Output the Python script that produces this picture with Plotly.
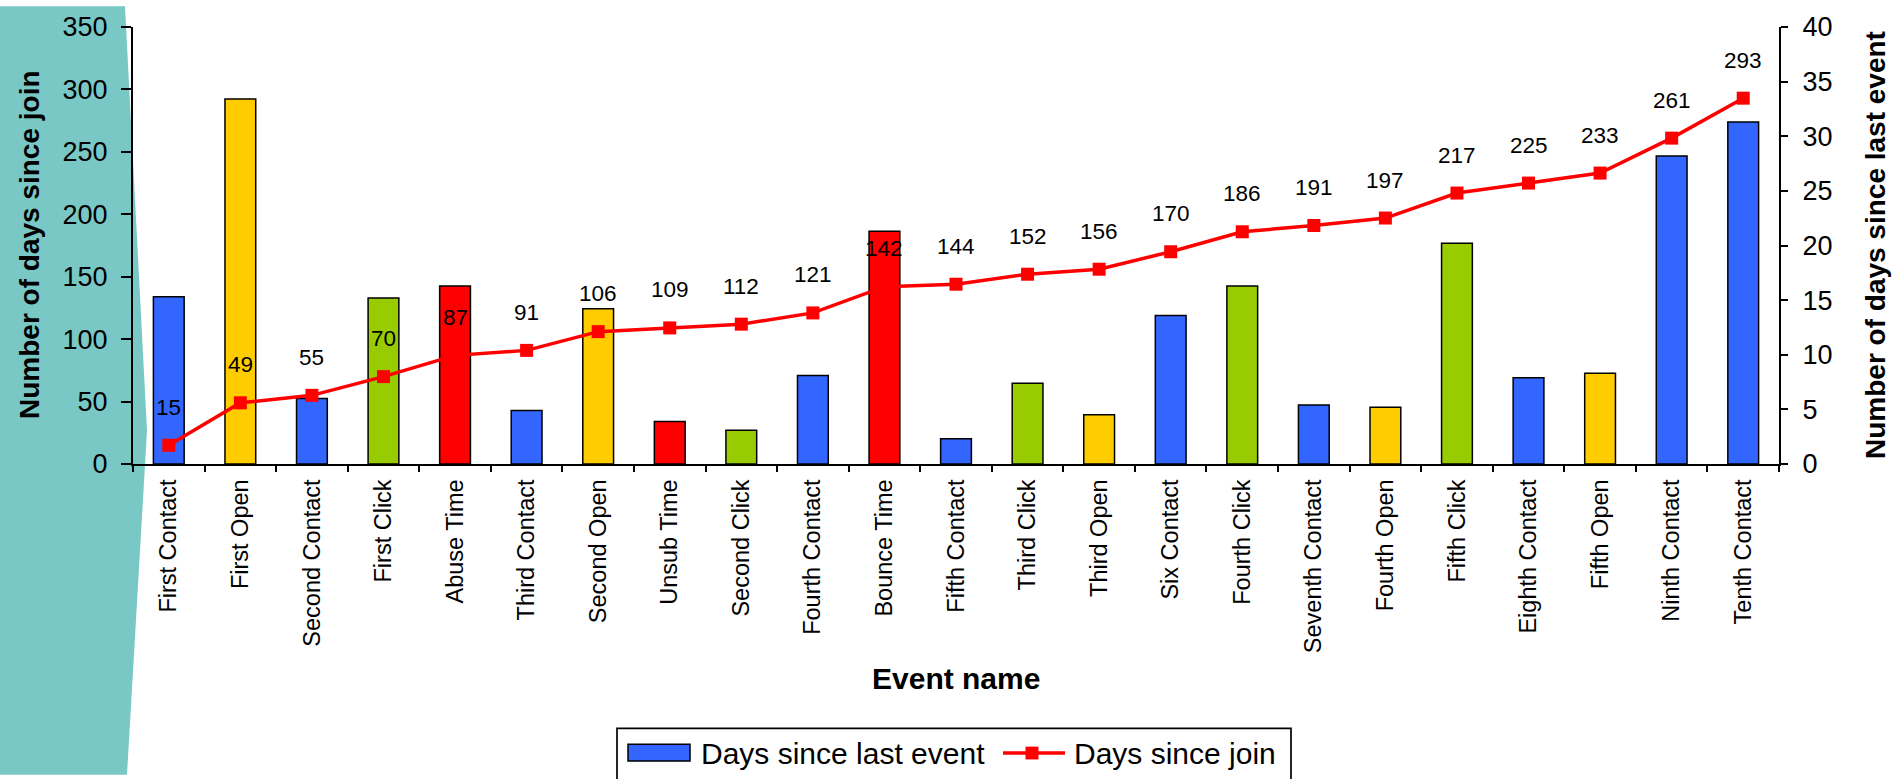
import plotly.graph_objects as go

# ---- data -------------------------------------------------------------
events = [
    "First Contact", "First Open", "Second Contact", "First Click", "Abuse Time",
    "Third Contact", "Second Open", "Unsub Time", "Second Click", "Fourth Contact",
    "Bounce Time", "Fifth Contact", "Third Click", "Third Open", "Six Contact",
    "Fourth Click", "Seventh Contact", "Fourth Open", "Fifth Click", "Eighth Contact",
    "Fifth Open", "Ninth Contact", "Tenth Contact",
]
days_since_join = [15, 49, 55, 70, 87, 91, 106, 109, 112, 121, 142, 144, 152,
                   156, 170, 186, 191, 197, 217, 225, 233, 261, 293]
days_since_last = [15.3, 33.4, 6.0, 15.2, 16.3, 4.9, 14.2, 3.9, 3.1, 8.1, 21.3,
                   2.3, 7.4, 4.5, 13.6, 16.3, 5.4, 5.2, 20.2, 7.9, 8.3, 28.2, 31.3]

join_ticks = [0, 50, 100, 150, 200, 250, 300, 350]
last_ticks = [0, 5, 10, 15, 20, 25, 30, 35, 40]

# ---- styling ------------------------------------------------------------
FONT = "Liberation Sans, Arial, sans-serif"
TYPE_COLORS = {"Contact": "#3366FF", "Open": "#FFCC00", "Click": "#99CC00", "Time": "#FF0000"}
bar_colors = [TYPE_COLORS[e.split()[-1]] for e in events]

FIG_W, FIG_H = 1895, 779
M_L, M_R, M_T, M_B = 133, 116, 21, 315
PLOT_W = FIG_W - M_L - M_R
PLOT_H = FIG_H - M_T - M_B


def px(x):
    """pixel column -> paper x"""
    return (x - M_L) / PLOT_W


def py(y):
    """pixel row -> paper y"""
    return (FIG_H - M_B - y) / PLOT_H


fig = go.Figure()

# bars: days since previous event (right-hand scale)
fig.add_trace(go.Bar(
    x=events, y=days_since_last, name="Days since last event",
    marker=dict(color=bar_colors, line=dict(color="black", width=1.5)),
    width=0.43, yaxis="y", showlegend=False,
))

# line: cumulative days since join (left-hand scale)
fig.add_trace(go.Scatter(
    x=events, y=days_since_join, name="Days since join", mode="lines+markers",
    line=dict(color="#FF0000", width=3.5),
    marker=dict(symbol="square", size=13, color="#FF0000"),
    yaxis="y2", showlegend=False,
))

annotations = []
for ev, v in zip(events, days_since_join):
    annotations.append(dict(
        x=ev, y=v, xref="x", yref="y2", text=str(v), showarrow=False,
        yshift=38, xanchor="center", yanchor="middle",
        font=dict(family=FONT, size=22.5, color="black"),
    ))

# axis titles
annotations += [
    dict(x=px(29), y=py(242), xref="paper", yref="paper", text="<b>Number of days since join</b>",
         textangle=-90, showarrow=False, xanchor="center", yanchor="middle",
         font=dict(family=FONT, size=28, color="black")),
    dict(x=px(1875), y=py(242), xref="paper", yref="paper",
         text="<b>Number of days since last event</b>",
         textangle=-90, showarrow=False, xanchor="center", yanchor="middle",
         font=dict(family=FONT, size=28, color="black")),
    dict(x=px(956), y=py(681), xref="paper", yref="paper", text="<b>Event name</b>",
         showarrow=False, xanchor="center", yanchor="middle",
         font=dict(family=FONT, size=30, color="black")),
]

# legend
annotations += [
    dict(x=px(699), y=py(757), xref="paper", yref="paper", text="Days since last event",
         showarrow=False, xanchor="left", yanchor="middle",
         font=dict(family=FONT, size=30, color="black")),
    dict(x=px(1072), y=py(757), xref="paper", yref="paper", text="Days since join",
         showarrow=False, xanchor="left", yanchor="middle",
         font=dict(family=FONT, size=30, color="black")),
]

shapes = [
    # teal slide accent on the left edge
    dict(type="path", xref="paper", yref="paper", layer="below",
         path=(f"M{px(0)},{py(0)} L{px(125)},{py(0)} L{px(147)},{py(430)} "
               f"L{px(127)},{py(779)} L{px(0)},{py(779)} Z"),
         fillcolor="#79C8C6", line=dict(width=0)),
    # legend frame
    dict(type="rect", xref="paper", yref="paper",
         x0=px(617), x1=px(1291), y0=py(732), y1=py(800),
         line=dict(color="black", width=1.7), fillcolor="rgba(0,0,0,0)"),
    # legend swatch for the bars
    dict(type="rect", xref="paper", yref="paper",
         x0=px(628), x1=px(690), y0=py(748), y1=py(765),
         line=dict(color="black", width=1.5), fillcolor="#3366FF"),
    # legend line + marker for the cumulative series
    dict(type="line", xref="paper", yref="paper",
         x0=px(1003), x1=px(1065), y0=py(757), y1=py(757),
         line=dict(color="#FF0000", width=3.5)),
    dict(type="rect", xref="paper", yref="paper",
         x0=px(1025.5), x1=px(1038.5), y0=py(750.5), y1=py(763.5),
         line=dict(width=0), fillcolor="#FF0000"),
]

axis_font = dict(family=FONT, size=27, color="black")

fig.update_layout(
    width=FIG_W, height=FIG_H,
    margin=dict(l=M_L, r=M_R, t=M_T, b=M_B, pad=0),
    paper_bgcolor="white", plot_bgcolor="white",
    showlegend=False, bargap=0.57,
    font=dict(family=FONT, color="black"),
    xaxis=dict(
        type="category", range=[-0.5, len(events) - 0.5],
        showline=True, linecolor="black", linewidth=2, mirror=False,
        ticks="outside", tickson="boundaries", ticklen=6, tickwidth=1.5, tickcolor="black",
        tickangle=-90, tickfont=dict(family=FONT, size=23.5, color="black"),
        ticklabelstandoff=4, showgrid=False, zeroline=False,
    ),
    yaxis=dict(
        side="right", range=[0, 40], tickvals=last_ticks,
        showline=True, linecolor="black", linewidth=2,
        ticks="outside", ticklen=7, tickwidth=1.5, tickcolor="black",
        tickfont=axis_font, ticklabelstandoff=9, showgrid=False, zeroline=False,
    ),
    yaxis2=dict(
        overlaying="y", side="left", range=[0, 350], tickvals=join_ticks,
        showline=True, linecolor="black", linewidth=2,
        ticks="outside", ticklen=10, tickwidth=1.5, tickcolor="black",
        tickfont=axis_font, ticklabelstandoff=8, showgrid=False, zeroline=False,
    ),
    yaxis3=dict(
        overlaying="y", side="right", range=[0, 40], tickvals=last_ticks,
        showline=False, showticklabels=False,
        ticks="inside", ticklen=11, tickwidth=1.5, tickcolor="black",
        showgrid=False, zeroline=False,
    ),
    annotations=annotations, shapes=shapes,
)

fig.write_html("out.html")
